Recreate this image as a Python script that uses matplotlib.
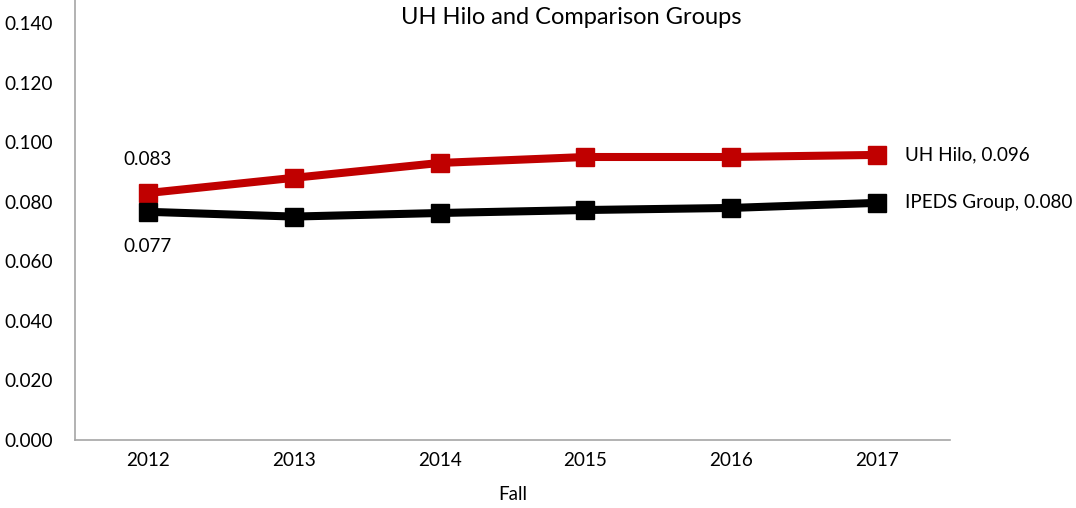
import matplotlib.pyplot as plt

plt.rcParams['font.family'] = ['Lato', 'DejaVu Sans']

years = ['2012', '2013', '2014', '2015', '2016', '2017']
uh_hilo = [0.0829, 0.0880, 0.0930, 0.0950, 0.0950, 0.0957]
ipeds = [0.0766, 0.0750, 0.0762, 0.0772, 0.0779, 0.0796]
yticks = [0.0, 0.02, 0.04, 0.06, 0.08, 0.10, 0.12, 0.14]

fig = plt.figure(figsize=(10.76, 5.08), dpi=100)
ax = fig.add_axes([75 / 1076, 68 / 508, 875 / 1076, 440 / 508])

x = list(range(len(years)))
ax.plot(x, uh_hilo, color='#c00000', lw=5.8, marker='s', ms=13, zorder=3)
ax.plot(x, ipeds, color='black', lw=5.8, marker='s', ms=13, zorder=4)

ax.set_xlim(-0.5, len(years) - 0.5)
ax.set_ylim(0, 0.1477)
ax.set_xticks(x)
ax.set_xticklabels(years)
ax.set_yticks(yticks)
ax.set_yticklabels(['%.3f' % v for v in yticks])
ax.tick_params(axis='both', length=0, labelsize=13.6, colors='black')
ax.tick_params(axis='y', pad=16)
ax.tick_params(axis='x', pad=9)

for s in ['top', 'right']:
    ax.spines[s].set_visible(False)
for s in ['left', 'bottom']:
    ax.spines[s].set_color('#a6a6a6')
    ax.spines[s].set_linewidth(1.2)

ax.set_xlabel('Fall', fontsize=13.6, labelpad=12)

fs = 13.6
ax.annotate('%.3f' % uh_hilo[0], (x[0], uh_hilo[0]), xytext=(0, 24), textcoords='offset points',
            ha='center', va='center', fontsize=fs)
ax.annotate('%.3f' % ipeds[0], (x[0], ipeds[0]), xytext=(0, -25), textcoords='offset points',
            ha='center', va='center', fontsize=fs)
ax.annotate('UH Hilo, %.3f' % uh_hilo[-1], (x[-1], uh_hilo[-1]), xytext=(20, 0), textcoords='offset points',
            ha='left', va='center', fontsize=fs, annotation_clip=False)
ax.annotate('IPEDS Group, %.3f' % ipeds[-1], (x[-1], ipeds[-1]), xytext=(20, 0), textcoords='offset points',
            ha='left', va='center', fontsize=fs, annotation_clip=False)

fig.text(571 / 1076, 1 - 17 / 508, 'UH Hilo and Comparison Groups', ha='center', va='center', fontsize=17)

fig.savefig('out.png', dpi=100)
